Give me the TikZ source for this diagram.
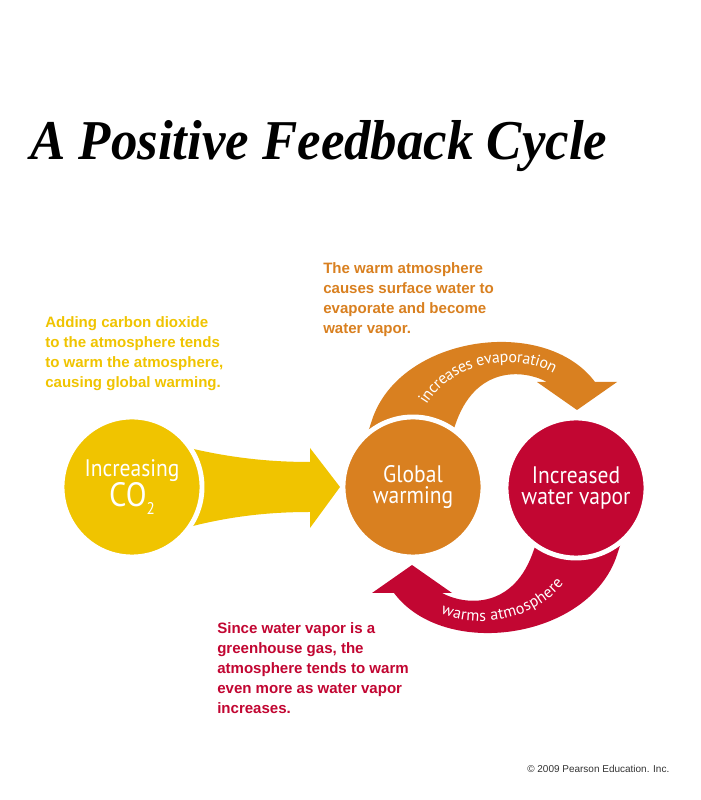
\documentclass[tikz,border=0pt]{standalone}
\usepackage{fontspec}
\setmainfont{Liberation Sans}
\newfontfamily\titlefont[FakeStretch=0.94]{Liberation Serif}
\newfontfamily\bubblefont[FakeStretch=0.9]{PT Sans}
\newfontfamily\bandfont{PT Sans}
\usetikzlibrary{decorations.text}
\definecolor{coyellow}{HTML}{F0C400}
\definecolor{warmorange}{HTML}{D98020}
\definecolor{vaporred}{HTML}{C20632}
\definecolor{creditgray}{HTML}{333333}

\begin{document}
\begin{tikzpicture}[
  x=0.025cm, y=0.025cm,
  bubble/.style={circle, draw=white, line width=3.5pt, minimum size=3.5cm, inner sep=0pt, text=white, align=center, font=\bubblefont\fontsize{17}{15.6}\selectfont},
  note/.style={anchor=north west, align=left, inner sep=0pt, font=\bfseries\fontsize{10.7}{14.2}\selectfont},
  bandlabel/.style={decorate, decoration={text along path, text={|\bandfont\fontsize{11.4}{12}\selectfont|#1}, text align=center, text color=white, raise=-3pt}},
]
\fill[white] (0,0) rectangle (700,800);
\useasboundingbox (0,0) rectangle (700,800);

\node[anchor=base west, inner sep=0pt, font=\titlefont\bfseries\itshape\fontsize{40}{40}\selectfont] (title) at (30,640) {A Positive Feedback Cycle};

% notes
\node[note, text=coyellow] (addnote) at (45,484) {Adding carbon dioxide\\to the atmosphere tends\\to warm the atmosphere,\\causing global warming.};
\node[note, text=warmorange] (evapnote) at (323,538) {The warm atmosphere\\causes surface water to\\evaporate and become\\water vapor.};
\node[note, text=vaporred] (ghgnote) at (217,178) {Since water vapor is a\\greenhouse gas, the\\atmosphere tends to warm\\even more as water vapor\\increases.};

% arrows
\fill[coyellow] (185,353) .. controls (230,342) and (270,338) .. (310,338) -- (310,352) -- (340,313) -- (310,272) -- (310,288) .. controls (270,288) and (230,284) .. (185,272) -- cycle;
\foreach \ang/\col in {0/warmorange, 180/vaporred}
  \fill[\col, rotate around={\ang:(494.5,312.5)}] (364,355) -- (372,380) .. controls (400,465) and (545,485) .. (595,418) -- (617,418) -- (577,390) -- (537,418) -- (547,418) .. controls (525,430) and (478,435) .. (457,380) -- (448,355) -- cycle;

\path[bandlabel={increases evaporation}] (414.5,380) .. controls (439,450) and (535,457.5) .. (571,418);
\path[bandlabel={warms atmosphere}] (418,207) .. controls (454,167.5) and (550,175) .. (574.5,245);

% circles
\node[bubble, fill=coyellow] (co2) at (132,313) {Increasing\\{\fontsize{24}{24}\selectfont CO\raisebox{-5.7pt}{\fontsize{12}{12}\selectfont 2}}};
\node[bubble, fill=warmorange] (warming) at (413,313) {Global\\warming};
\node[bubble, fill=vaporred] (vapor) at (576,312) {Increased\\water vapor};

\node[anchor=base west, inner sep=0pt, text=creditgray, font=\fontsize{7.1}{8}\selectfont] (credit) at (527,27) {\textcopyright{} 2009 Pearson Education. Inc.};
\end{tikzpicture}
\end{document}
